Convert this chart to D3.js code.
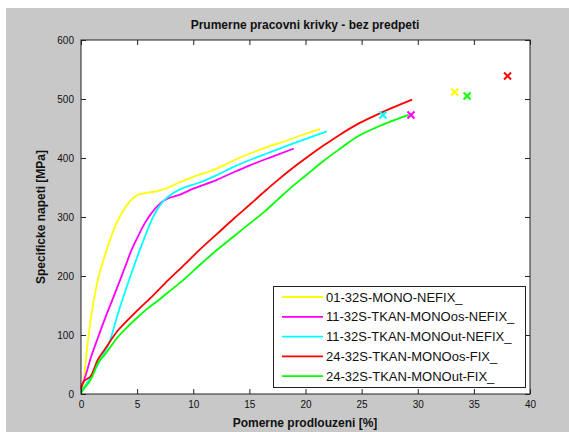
<!DOCTYPE html>
<html>
<head>
  <script src="https://d3js.org/d3.v7.min.js"></script>
  <style>
    body { margin: 0; background: #fff; }
    text { font-family: "Liberation Sans", Arial, sans-serif; fill: #111; }
  </style>
</head>
<body>
<svg width="569" height="432"></svg>
<script>
  // strain [%] / stress [MPa]
  const names = ["01-32S-MONO-NEFIX_", "11-32S-TKAN-MONOos-NEFIX_", "11-32S-TKAN-MONOut-NEFIX_",
                 "24-32S-TKAN-MONOos-FIX_", "24-32S-TKAN-MONOut-FIX_"];
  const colors = ["#ffff00", "#ff00ff", "#00ffff", "#ff0000", "#00ff00"];

  const yellowX = [0, 0.2, 0.5, 0.9, 1.4, 2.0, 2.6, 3.3, 3.8, 4.2, 4.7, 5.1, 5.6, 6.2, 6.6, 7.2, 7.8, 8.7, 10, 12.1, 13.5, 15.1, 16.5, 18.1, 19.7, 21.3];
  const yellowY = [5, 15, 70, 131, 185, 227, 262, 295, 312, 323, 333, 338, 340, 342, 343, 346, 350, 358, 368, 382, 395, 408, 418, 428, 439, 449];

  const magentaX = [0, 0.3, 0.9, 1.5, 2.1, 2.7, 3.3, 3.9, 4.5, 5.1, 5.7, 6.3, 6.9, 7.4, 7.8, 8.7, 10, 12.1, 13.5, 15.1, 17, 18.96];
  const magentaY = [12, 25, 63, 95, 126, 155, 184, 214, 244, 268, 290, 307, 320, 328, 332, 337, 348, 363, 375, 388, 402, 416];

  const cyanX = [0, 0.5, 1.0, 1.5, 2.0, 2.5, 3.3, 3.9, 4.5, 5.1, 5.7, 6.3, 6.9, 7.4, 7.95, 9.1, 10.5, 12.1, 13.5, 15.1, 16.6, 18.1, 20, 21.9];
  const cyanY = [3, 18, 33, 50, 68, 86, 137, 172, 205, 237, 267, 295, 316, 328, 337, 349, 358, 371, 384, 397, 408, 419, 432, 445];

  const redX = [0, 0.18, 0.92, 1.5, 2.1, 3.3, 4.2, 5.1, 6.2, 7.5, 9.1, 10.6, 12.1, 13.6, 15.1, 16.4, 17.5, 18.66, 20.2, 21.6, 23.1, 24.6, 26.1, 27.6, 29.5];
  const redY = [8, 19, 32, 58, 75, 108, 126, 143, 163, 188, 217, 245, 271, 297, 322, 344, 362, 380, 402, 421, 440, 457, 471, 484, 499];

  const greenX = [0, 0.18, 0.92, 1.5, 2.1, 3.3, 4.2, 5.1, 6.0, 6.9, 8.0, 9.1, 10.6, 12.1, 13.6, 15.1, 16.4, 17.5, 18.66, 20.0, 21.6, 23.1, 24.6, 26.1, 27.6, 29.2];
  const greenY = [2, 7, 26, 52, 66, 97, 115, 131, 146, 159, 176, 193, 219, 244, 267, 290, 310, 329, 349, 370, 395, 416, 436, 450, 462, 473];

  // failure points (x markers)
  const breakX = [33.3, 29.4, 26.9, 38.0, 34.4];
  const breakY = [512, 473, 473, 539, 505];

  const seriesX = [yellowX, magentaX, cyanX, redX, greenX];
  const seriesY = [yellowY, magentaY, cyanY, redY, greenY];

  const xTicks = [0, 5, 10, 15, 20, 25, 30, 35, 40];
  const yTicks = [0, 100, 200, 300, 400, 500, 600];

  const svg = d3.select("svg");
  const L = 81, R = 530, T = 40, B = 394;

  svg.append("rect").attr("x", 6).attr("y", 8).attr("width", 563).attr("height", 424).attr("fill", "#c8c8c8");
  svg.append("rect").attr("x", L).attr("y", T).attr("width", R - L).attr("height", B - T).attr("fill", "#fff");

  const x = d3.scaleLinear().domain([0, 40]).range([L, R]);
  const y = d3.scaleLinear().domain([0, 600]).range([B, T]);

  const g = svg.append("g");

  const line = d3.line().x(d => x(d[0])).y(d => y(d[1])).curve(d3.curveMonotoneX);
  seriesX.forEach((xs, i) => {
    const pts = xs.map((v, j) => [v, seriesY[i][j]]);
    g.append("path").attr("d", line(pts)).attr("fill", "none")
      .attr("stroke", colors[i]).attr("stroke-width", 1.8);
  });

  // x markers
  breakX.forEach((v, i) => {
    const cx = x(v), cy = y(breakY[i]), s = 3.5;
    g.append("path").attr("d", `M${cx - s},${cy - s}L${cx + s},${cy + s}M${cx - s},${cy + s}L${cx + s},${cy - s}`)
      .attr("stroke", colors[i]).attr("stroke-width", 2);
  });

  // axes with inward ticks on all sides
  const ax = svg.append("g").attr("font-size", 12);
  ax.append("g").attr("transform", `translate(0,${B})`)
    .call(d3.axisBottom(x).tickValues(xTicks).tickSize(-5).tickPadding(7))
    .call(s => s.select(".domain").remove());
  ax.append("g").attr("transform", `translate(0,${T})`)
    .call(d3.axisTop(x).tickValues(xTicks).tickSize(-5).tickFormat(""))
    .call(s => s.select(".domain").remove());
  ax.append("g").attr("transform", `translate(${L},0)`)
    .call(d3.axisLeft(y).tickValues(yTicks).tickSize(-5).tickPadding(7))
    .call(s => s.select(".domain").remove());
  ax.append("g").attr("transform", `translate(${R},0)`)
    .call(d3.axisRight(y).tickValues(yTicks).tickSize(-5).tickFormat(""))
    .call(s => s.select(".domain").remove());
  ax.selectAll("text").attr("font-family", "Liberation Sans, Arial, sans-serif").attr("fill", "#111");
  ax.selectAll(".tick line").attr("stroke", "#222");

  svg.append("rect").attr("x", L).attr("y", T).attr("width", R - L).attr("height", B - T)
    .attr("fill", "none").attr("stroke", "#222").attr("stroke-width", 1);

  // legend
  const lg = svg.append("g");
  lg.append("rect").attr("x", 273.5).attr("y", 286.5).attr("width", 252).attr("height", 101)
    .attr("fill", "#fff").attr("stroke", "#222");
  names.forEach((n, i) => {
    const yy = 297 + i * 19.8;
    lg.append("line").attr("x1", 282).attr("x2", 323).attr("y1", yy).attr("y2", yy)
      .attr("stroke", colors[i]).attr("stroke-width", 1.8);
    lg.append("text").attr("x", 326).attr("y", yy + 4.5).attr("font-size", 13).text(n);
  });

  svg.append("text").attr("x", 305).attr("y", 29).attr("text-anchor", "middle")
    .attr("font-size", 12).attr("font-weight", "bold").text("Prumerne pracovni krivky - bez predpeti");
  svg.append("text").attr("x", 305).attr("y", 427).attr("text-anchor", "middle")
    .attr("font-size", 12).attr("font-weight", "bold").text("Pomerne prodlouzeni [%]");
  svg.append("text").attr("transform", `translate(45,${(T + B) / 2}) rotate(-90)`).attr("text-anchor", "middle")
    .attr("font-size", 12).attr("font-weight", "bold").text("Specificke napeti [MPa]");
</script>
</body>
</html>
